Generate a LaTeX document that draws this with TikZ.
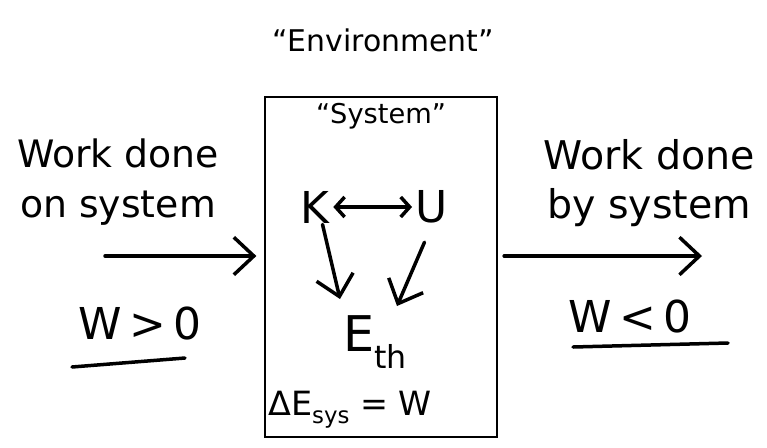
\documentclass[tikz,border=0pt]{standalone}
\usepackage{fontspec}
\setmainfont{DejaVu Sans}
\usetikzlibrary{arrows.meta}
\usetikzlibrary{calc}
\tikzset{>={Straight Barb[length=4mm,width=7.5mm]}}
\tikzstyle{penline}=[draw=black,line width=0.7mm,line cap=round]
\tikzstyle{boxline}=[draw=black,line width=0.45mm]
\tikzstyle{bigtext}=[font=\fontsize{21.5}{28}\selectfont,align=center,inner sep=1pt]
\tikzstyle{midtext}=[font=\fontsize{17}{20}\selectfont,inner sep=1pt]
\tikzstyle{lettertext}=[font=\fontsize{25}{28}\selectfont,inner sep=2pt]

\begin{document}
\begin{tikzpicture}
    \useasboundingbox (0,0) rectangle (15.34,8.94);
    \node[midtext] (env) at (7.66,8.14) {``Environment''};
    \node[boxline,minimum width=4.64cm,minimum height=6.8cm] (sysbox) at (7.62,3.6) {};
    \node[midtext,font=\fontsize{15.5}{18}\selectfont] (systitle) at (7.62,6.62) {``System''};

    \node[lettertext] (K) at (6.3,4.8) {K};
    \node[lettertext] (U) at (8.64,4.8) {U};
    \node[lettertext,font=\fontsize{28}{30}\selectfont] (Eth) at (7.5,2.1) {E\raisebox{-0.35em}{\fontsize{18}{20}\selectfont th}};
    \node[midtext,font=\fontsize{19}{22}\selectfont] (energy) at (7.0,0.74) {ΔE\raisebox{-0.25em}{\fontsize{13}{15}\selectfont sys} = W};

    \draw[penline,{Straight Barb[length=1.8mm,width=4mm]}-{Straight Barb[length=1.8mm,width=4mm]}] (K) -- (U);
    \draw[penline,->] ($(K.south)+(0.15,0.05)$) -- (6.8,2.96);
    \draw[penline,->] ($(U.south)+(-0.15,-0.3)$) -- (7.94,2.82);

    % work on the system
    \node[bigtext] (workon) at (2.36,5.3) {Work done\\on system};
    \coordinate (inbeg) at (2.1,3.82);
    \draw[penline,->] (inbeg) -- ($(sysbox.west |- inbeg)+(-0.15,0)$);
    \node[lettertext] (Wpos) at (2.8,2.48) {W\,>\,0};
    \draw[penline] (1.44,1.6) -- (3.7,1.78);

    % work by the system
    \node[bigtext,font=\fontsize{22.5}{28}\selectfont] (workby) at (12.98,5.28) {Work done\\by system};
    \coordinate (outend) at (14.04,3.82);
    \draw[penline,->] ($(sysbox.east |- outend)+(0.12,0)$) -- (outend);
    \node[lettertext] (Wneg) at (12.6,2.6) {W\,<\,0};
    \draw[penline] (11.46,2.0) -- (14.56,2.08);
\end{tikzpicture}
\end{document}
